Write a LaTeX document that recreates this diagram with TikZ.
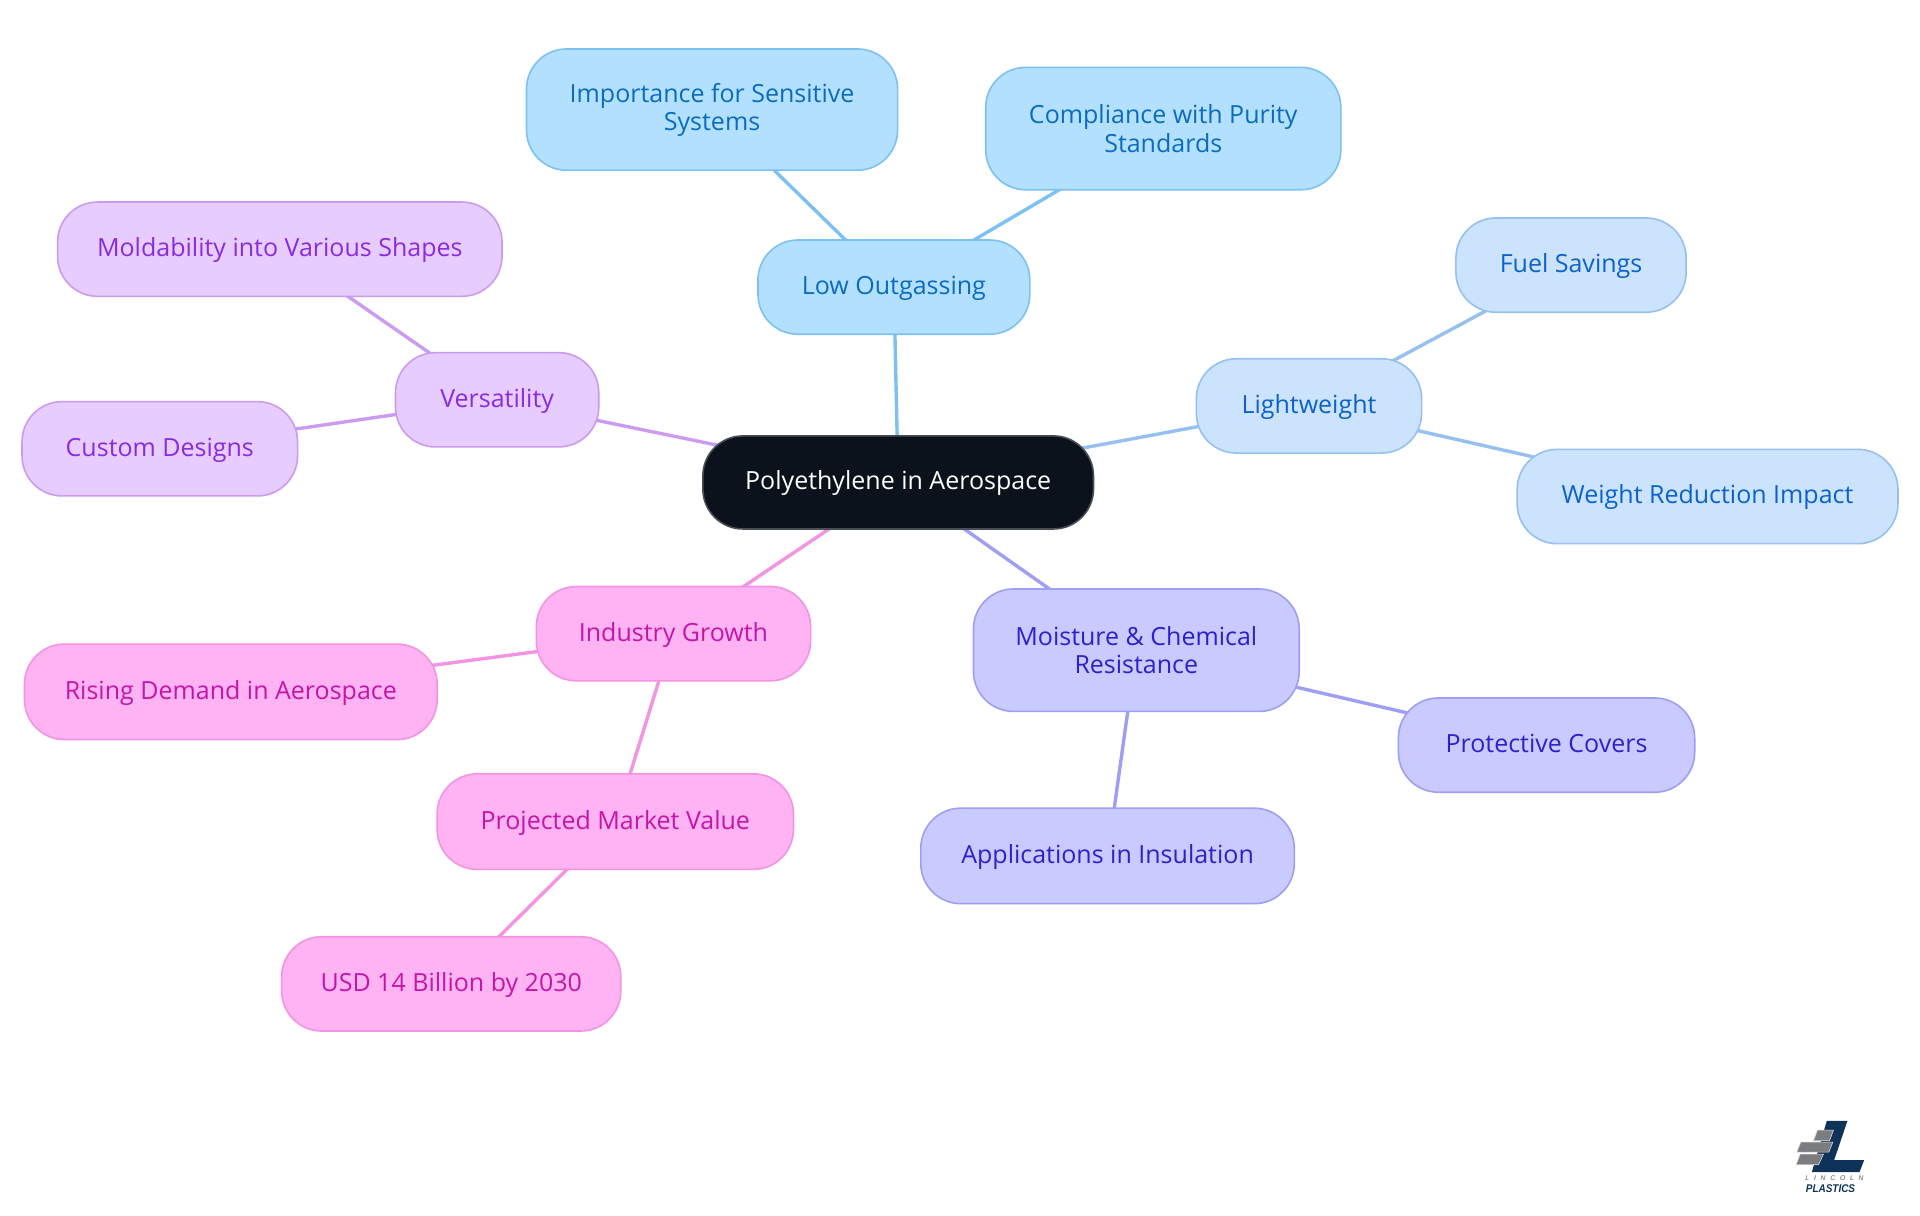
\documentclass[tikz,border=0pt]{standalone}
\usepackage{fontspec}
\setmainfont{Open Sans}
\newfontfamily\logofont{Liberation Sans}
\usetikzlibrary{backgrounds}
\definecolor{rootfill}{HTML}{0B121B}
\definecolor{rootline}{HTML}{4A4F56}
\definecolor{skyfill}{HTML}{B3E0FF}
\definecolor{skyline}{HTML}{7CC1F2}
\definecolor{skytext}{HTML}{0A6CBF}
\definecolor{palefill}{HTML}{CCE3FD}
\definecolor{paleline}{HTML}{96C0F0}
\definecolor{paletext}{HTML}{0B62CE}
\definecolor{indigofill}{HTML}{C9CAFF}
\definecolor{indigoline}{HTML}{9E9EF5}
\definecolor{indigotext}{HTML}{2B22CC}
\definecolor{pinkfill}{HTML}{FFB3F2}
\definecolor{pinkline}{HTML}{F394E2}
\definecolor{pinktext}{HTML}{C515A8}
\definecolor{lilacfill}{HTML}{E6CCFF}
\definecolor{lilacline}{HTML}{CB9BF2}
\definecolor{lilactext}{HTML}{8A2BE2}
\definecolor{logonavy}{HTML}{0F3358}
\definecolor{logogray}{HTML}{7A7C80}
\tikzset{
  mapnode/.style={draw,line width=0.8pt,rounded corners=20pt,align=center,font=\fontsize{12.5}{14.1}\selectfont,inner sep=0pt},
  size/.style 2 args={minimum width=#1*0.6122pt,minimum height=#2*0.6122pt},
  oneline/.style={text height=10pt,text depth=2.6pt},
  root/.style={mapnode,fill=rootfill,draw=rootline,text=white},
  sky/.style={mapnode,fill=skyfill,draw=skyline,text=skytext},
  pale/.style={mapnode,fill=palefill,draw=paleline,text=paletext},
  indigo/.style={mapnode,fill=indigofill,draw=indigoline,text=indigotext},
  pink/.style={mapnode,fill=pinkfill,draw=pinkline,text=pinktext},
  lilac/.style={mapnode,fill=lilacfill,draw=lilacline,text=lilactext},
  link/.style={line width=1.7pt}
}
\begin{document}
\begin{tikzpicture}[x=0.6122pt,y=-0.6122pt]
  \useasboundingbox (0,0) rectangle (1568,992.3);
  \node[root,oneline,size={319}{76}] (center) at (733.5,394) {Polyethylene in Aerospace};
  \node[sky,oneline,size={222}{77}] (outgas) at (730,234.5) {Low Outgassing};
  \node[sky,size={303}{99}] (import) at (581.5,89.5) {Importance for Sensitive\\Systems};
  \node[sky,size={290}{100}] (comply) at (950,105) {Compliance with Purity\\Standards};
  \node[pale,oneline,size={184}{77}] (light) at (1069,331.5) {Lightweight};
  \node[pale,oneline,size={188}{77}] (fuel) at (1283,216.5) {Fuel Savings};
  \node[pale,oneline,size={311}{77}] (weight) at (1394.5,405.5) {Weight Reduction Impact};
  \node[indigo,size={266}{100}] (moist) at (928,531) {Moisture \& Chemical\\Resistance};
  \node[indigo,oneline,size={242}{77}] (cover) at (1263,608.5) {Protective Covers};
  \node[indigo,oneline,size={305}{78}] (insul) at (904.5,699) {Applications in Insulation};
  \node[pink,oneline,size={224}{77}] (growth) at (550,517.5) {Industry Growth};
  \node[pink,oneline,size={337}{78}] (demand) at (188.5,565) {Rising Demand in Aerospace};
  \node[pink,oneline,size={291}{78}] (market) at (502.5,671) {Projected Market Value};
  \node[pink,oneline,size={277}{77}] (usd) at (368.5,803.5) {USD 14 Billion by 2030};
  \node[lilac,oneline,size={166}{77}] (versa) at (406,326.5) {Versatility};
  \node[lilac,oneline,size={363}{77}] (mold) at (228.5,203.5) {Moldability into Various Shapes};
  \node[lilac,oneline,size={225}{77}] (custom) at (130.5,366.5) {Custom Designs};
  \begin{pgfonlayer}{background}
    \draw[link,skyline] (center.center) -- (outgas.center);
    \draw[link,skyline] (outgas.center) -- (import.center);
    \draw[link,skyline] (outgas.center) -- (comply.center);
    \draw[link,paleline] (center.center) -- (light.center);
    \draw[link,paleline] (light.center) -- (fuel.center);
    \draw[link,paleline] (light.center) -- (weight.center);
    \draw[link,indigoline] (center.center) -- (moist.center);
    \draw[link,indigoline] (moist.center) -- (cover.center);
    \draw[link,indigoline] (moist.center) -- (insul.center);
    \draw[link,pinkline] (center.center) -- (growth.center);
    \draw[link,pinkline] (growth.center) -- (demand.center);
    \draw[link,pinkline] (growth.center) -- (market.center);
    \draw[link,pinkline] (market.center) -- (usd.center);
    \draw[link,lilacline] (center.center) -- (versa.center);
    \draw[link,lilacline] (versa.center) -- (mold.center);
    \draw[link,lilacline] (versa.center) -- (custom.center);
  \end{pgfonlayer}
  % logo, in the corner
  \begin{scope}[shift={(880pt,-545pt)},x=0.16667pt,y=-0.16667pt]
    \fill[logonavy] (200,92) -- (262,92) -- (222,210) -- (312,210) -- (298,246) -- (155,246) -- cycle;
    \filldraw[logogray,draw=white!85!black,line width=0.3pt] (172,120) -- (220,120) -- (208,152) -- (160,152) -- cycle;
    \filldraw[logogray,draw=white!85!black,line width=0.3pt] (122,156) -- (218,156) -- (206,186) -- (110,186) -- cycle;
    \filldraw[logogray,draw=white!85!black,line width=0.3pt] (120,192) -- (190,192) -- (175,224) -- (108,224) -- cycle;
    \node[inner sep=0pt,text=logogray!70!black,font=\logofont\itshape\fontsize{3.4}{4}\selectfont\addfontfeature{LetterSpace=70}] (lincoln) at (223,265) {LINCOLN};
    \node[inner sep=0pt,text=logonavy,xscale=0.89,font=\logofont\bfseries\itshape\fontsize{5.6}{7}\selectfont] (plastics) at (211,296) {PLASTICS};
  \end{scope}
\end{tikzpicture}
\end{document}
